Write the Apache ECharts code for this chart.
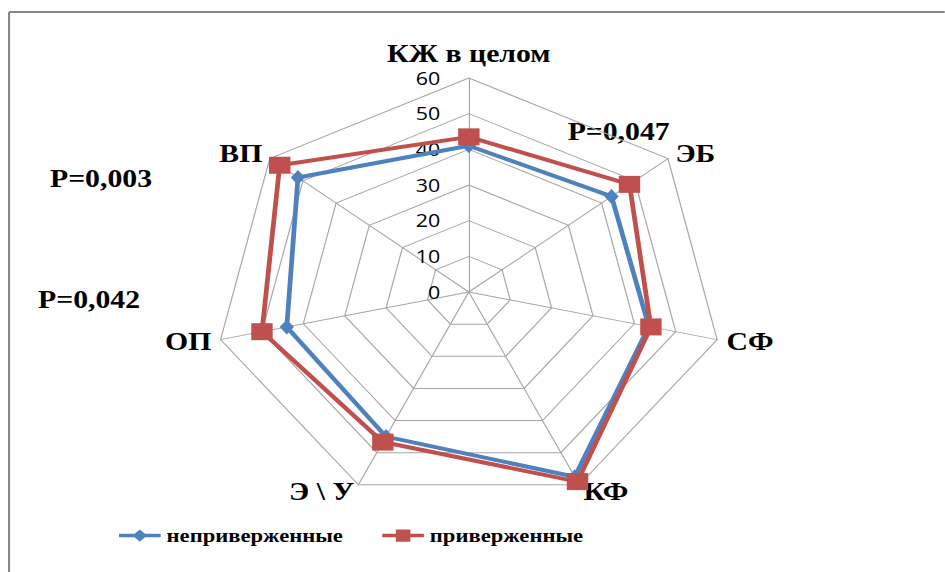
<!DOCTYPE html>
<html>
<head>
<meta charset="utf-8">
<script src="https://cdn.jsdelivr.net/npm/echarts@6/dist/echarts.min.js"></script>
<style>
html,body{margin:0;padding:0;background:#fff;}
#wrap{width:945px;height:572px;overflow:hidden;position:relative;}
#chart{width:794px;height:572px;transform:scaleX(1.19);transform-origin:0 0;}
</style>
</head>
<body>
<div id="wrap"><div id="chart"></div></div>
<script>
// categories in clockwise order starting from the top
const categories = ['КЖ в целом', 'ЭБ', 'СФ', 'КФ', 'Э \\ У', 'ОП', 'ВП'];
const seriesNames = ['неприверженные', 'приверженные'];
const nonAdherent = [41, 43, 43.5, 57.5, 45, 44, 51.5];
const adherent = [43.5, 48.4, 44, 59, 46.7, 50, 57];
const axisMin = 0, axisMax = 60, axisStep = 10;
const pNotes = ['P=0,047', 'P=0,003', 'P=0,042'];

// ECharts radar runs counter-clockwise: reorder so the axes go clockwise
const cw = arr => [arr[0]].concat(arr.slice(1).reverse());

const serif = '"Liberation Serif", "Times New Roman", serif';
const chart = echarts.init(document.getElementById('chart'), null, {renderer: 'svg'});
const C = [394, 292], R = 214;

chart.setOption({
  animation: false,
  radar: {
    center: C,
    radius: R,
    shape: 'polygon',
    startAngle: 90,
    splitNumber: (axisMax - axisMin) / axisStep,
    indicator: cw(categories).map(n => ({name: n, min: axisMin, max: axisMax})),
    axisName: {color: '#000', fontFamily: serif, fontWeight: 'bold', fontSize: 25, padding: [0, 0, 4, 0]},
    nameGap: 8,
    axisLine: {lineStyle: {color: '#a6a6a6', width: 1}},
    splitLine: {lineStyle: {color: '#a6a6a6', width: 1}},
    splitArea: {show: false},
    axisTick: {show: false},
    axisLabel: {show: false}
  },
  polar: {center: C, radius: R},
  angleAxis: {
    startAngle: 90, min: 0, max: 360,
    axisLine: {show: false}, axisTick: {show: false}, axisLabel: {show: false}, splitLine: {show: false}
  },
  radiusAxis: {
    min: axisMin, max: axisMax, interval: axisStep,
    axisLine: {show: false}, axisTick: {show: false}, splitLine: {show: false},
    axisLabel: {show: true, color: '#000', fontFamily: '"Open Sans", "Noto Sans", sans-serif', fontSize: 18, margin: 24}
  },
  legend: {
    left: 95, top: 521,
    itemWidth: 35, itemHeight: 14, itemGap: 33,
    textStyle: {color: '#000', fontFamily: serif, fontWeight: 'bold', fontSize: 19},
    data: [
      {name: seriesNames[0], icon: 'path://M0,5L15,5L20,0L25,5L40,5L40,9L25,9L20,14L15,9L0,9Z', itemStyle: {color: '#4F81BD'}},
      {name: seriesNames[1], icon: 'path://M0,5L13,5L13,0L27,0L27,5L40,5L40,9L27,9L27,14L13,14L13,9L0,9Z', itemStyle: {color: '#C0504D'}}
    ]
  },
  graphic: [
    {type: 'line', shape: {x1: 7.6, y1: 12, x2: 794, y2: 12}, style: {stroke: '#868686', lineWidth: 2}},
    {type: 'line', shape: {x1: 7.6, y1: 12, x2: 7.6, y2: 572}, style: {stroke: '#868686', lineWidth: 1.7}},
    {type: 'text', left: 477, top: 119, style: {text: pNotes[0], fill: '#000', font: 'bold 25px ' + serif}},
    {type: 'text', left: 42, top: 166, style: {text: pNotes[1], fill: '#000', font: 'bold 25px ' + serif}},
    {type: 'text', left: 32, top: 287, style: {text: pNotes[2], fill: '#000', font: 'bold 25px ' + serif}}
  ],
  series: [
    {
      type: 'radar', name: seriesNames[0],
      symbol: 'diamond', symbolSize: [12, 15],
      lineStyle: {color: '#4F81BD', width: 4},
      itemStyle: {color: '#4F81BD'},
      data: [{name: seriesNames[0], value: cw(nonAdherent)}]
    },
    {
      type: 'radar', name: seriesNames[1],
      symbol: 'rect', symbolSize: [18, 17],
      lineStyle: {color: '#C0504D', width: 4},
      itemStyle: {color: '#C0504D'},
      data: [{name: seriesNames[1], value: cw(adherent)}]
    }
  ]
});
</script>
</body>
</html>
